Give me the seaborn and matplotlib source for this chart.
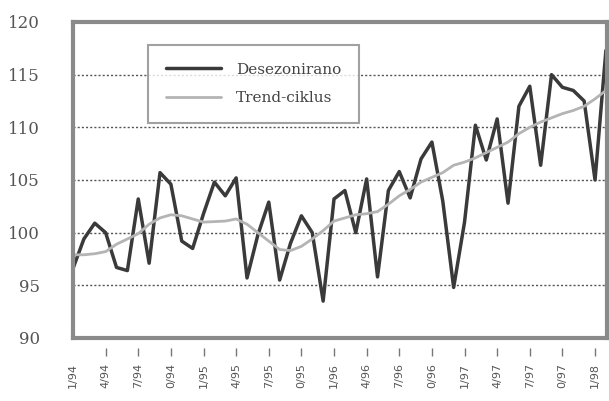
import matplotlib
matplotlib.use("Agg")
import matplotlib.pyplot as plt
import matplotlib.transforms as mtransforms
import seaborn as sns
import pandas as pd
import numpy as np

# --- data (monthly, 1/94 .. 2/98) ---
desezonirano = [96.6, 99.4, 100.9, 100.0, 96.7, 96.4, 103.2, 97.1, 105.7, 104.6,
                99.2, 98.5, 101.8, 104.8, 103.5, 105.2, 95.7, 99.8, 102.9, 95.5,
                99.0, 101.6, 100.0, 93.5, 103.2, 104.0, 100.0, 105.1, 95.8, 104.0,
                105.8, 103.3, 107.0, 108.6, 103.0, 94.8, 101.0, 110.2, 106.9, 110.8,
                102.8, 112.0, 113.9, 106.4, 115.0, 113.8, 113.5, 112.5, 105.0, 117.3]
trend_ciklus = [97.9, 97.9, 98.0, 98.2, 98.9, 99.4, 99.9, 100.8, 101.4, 101.7,
                101.6, 101.3, 101.0, 101.05, 101.1, 101.3, 100.8, 100.0, 99.2, 98.4,
                98.3, 98.7, 99.4, 100.2, 101.1, 101.4, 101.7, 101.8, 102.0, 102.7,
                103.5, 104.1, 104.8, 105.25, 105.7, 106.4, 106.7, 107.1, 107.6, 108.1,
                108.6, 109.4, 110.0, 110.5, 110.9, 111.3, 111.6, 112.0, 112.7, 113.5]
tick_labels = ["1/94", "4/94", "7/94", "0/94", "1/95", "4/95", "7/95", "0/95",
               "1/96", "4/96", "7/96", "0/96", "1/97", "4/97", "7/97", "0/97", "1/98"]
series_names = ["Desezonirano", "Trend-ciklus"]

month = np.arange(len(desezonirano))
df = pd.DataFrame({
    "month": np.concatenate([month, month]),
    "value": desezonirano + trend_ciklus,
    "series": [series_names[0]] * len(month) + [series_names[1]] * len(month),
})

sns.set_style("white")
fig = plt.figure(figsize=(6.09, 4.01), dpi=100)
ax = fig.add_axes([73 / 609, 1 - 338 / 401, (607 - 73) / 609, (338 - 22) / 401])

sns.lineplot(data=df, x="month", y="value", hue="series", size="series",
             hue_order=series_names,
             palette={series_names[0]: "#3a3a3a", series_names[1]: "#b4b4b4"},
             sizes={series_names[0]: 2.5, series_names[1]: 2.0},
             ax=ax, legend=True)

ax.set_xlim(0, 49.1)
ax.set_ylim(90, 120)
ax.set_xlabel("")
ax.set_ylabel("")

# grid
for yv in [95, 100, 105, 110, 115]:
    ax.axhline(yv, color="#555555", lw=1.0, ls=(0, (1.5, 1.5)), zorder=0)

# spines
for side, s in ax.spines.items():
    s.set_visible(True)
    s.set_color("#8a8a8a")
    s.set_linewidth(3.0)

# y ticks
ax.set_yticks([90, 95, 100, 105, 110, 115, 120])
ax.set_yticklabels(["90", "95", "100", "105", "110", "115", "120"],
                   family="DejaVu Serif", fontsize=12, color="#555555")
ax.tick_params(axis="y", length=0, pad=24)

# x ticks
xt = np.arange(0, 49, 3)
ax.set_xticks(xt)
ax.set_xticklabels(tick_labels, rotation=90, fontsize=8, color="#555555",
                   family="DejaVu Sans")
ax.tick_params(axis="x", length=0, pad=18)
trans = mtransforms.blended_transform_factory(ax.transData, ax.transAxes)
ax.vlines(xt[1:], -0.058, -0.033, transform=trans, colors="#777777",
          lw=1.0, clip_on=False)

# legend
handles, labels = ax.get_legend_handles_labels()
leg = ax.legend(handles, labels, loc="upper left",
                bbox_to_anchor=(148 / 609, 1 - 45 / 401),
                bbox_transform=fig.transFigure,
                frameon=True, fancybox=False, handlelength=3.6,
                prop={"family": "DejaVu Serif", "size": 11},
                borderpad=1.15, labelspacing=0.95, handletextpad=1.0,
                borderaxespad=0)
leg.get_frame().set_edgecolor("#8a8a8a")
leg.get_frame().set_linewidth(1.5)
for t in leg.get_texts():
    t.set_color("#444444")
for lh, w in zip(leg.get_lines(), [2.5, 2.0]):
    lh.set_linewidth(w)

fig.savefig("out.png", dpi=100)
